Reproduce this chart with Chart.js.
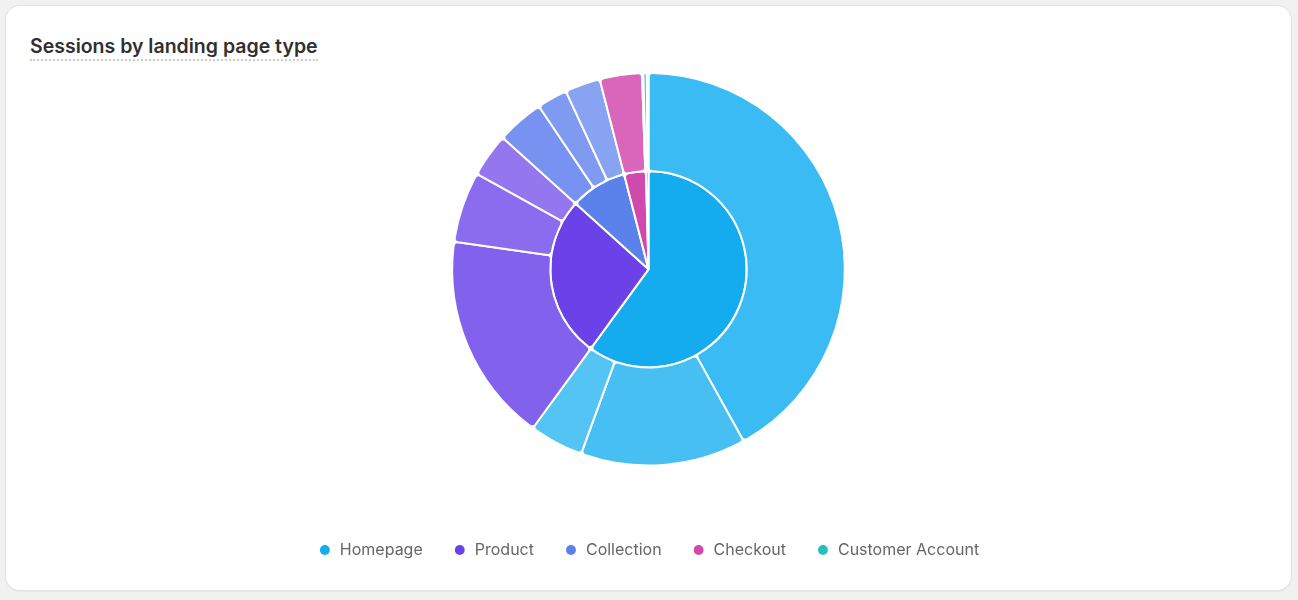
<!DOCTYPE html>
<html>
<head>
<meta charset="utf-8">
<script src="https://cdn.jsdelivr.net/npm/chart.js@4"></script>
<style>
  html, body { margin: 0; padding: 0; background: #f1f1f1; }
  body { width: 1298px; height: 600px; position: relative; font-family: Inter, sans-serif; }
  .card {
    position: absolute; left: 6px; top: 6px; width: 1285px; height: 584px;
    background: #fff; border-radius: 14px;
    box-shadow: 0 0 0 1px #e3e3e3, 0 1px 2px rgba(0,0,0,0.12);
  }
  .titulo {
    position: absolute; left: 24px; top: 28px; margin: 0;
    font-size: 19.5px; font-weight: 600; color: #303030; line-height: 24px;
    border-bottom: 2px dotted #cccccc; padding-bottom: 1px;
  }
  .lienzo { position: absolute; left: 0; top: 66px; width: 1285px; height: 496px; }
</style>
</head>
<body>
<div class="card">
  <h2 class="titulo">Sessions by landing page type</h2>
  <div class="lienzo"><canvas id="graficoSesiones"></canvas></div>
</div>
<script>
// Categorias (anillo interior) y sus valores
const categorias = ['Homepage', 'Product', 'Collection', 'Checkout', 'Customer Account'];
const sesionesCategoria = [2160, 960, 335, 129, 15];
const coloresCategoria = ['#14acef', '#6a42e7', '#5b82eb', '#d049ad', '#25bfbd'];

// Subpaginas (anillo exterior), en el mismo orden que las categorias
const subpaginas = [
  'Homepage 1', 'Homepage 2', 'Homepage 3',
  'Product 1', 'Product 2', 'Product 3',
  'Collection 1', 'Collection 2', 'Collection 3',
  'Checkout 1', 'Checkout 2',
  'Customer Account 1', 'Customer Account 2'
];
const sesionesSubpagina = [1510, 490, 160, 620, 210, 130, 140, 90, 105, 125, 4, 10, 5];
const coloresSubpagina = [
  '#3bbbf3', '#47bff3', '#53c4f4',
  '#8262ed', '#8b6cee', '#9477ef',
  '#7792f0', '#7f9af1', '#88a3f2',
  '#d966ba', '#e08ccb',
  '#3cc8c6', '#5fd2d0'
];

const ctx = document.getElementById('graficoSesiones').getContext('2d');

const graficoSesiones = new Chart(ctx, {
  type: 'doughnut',
  data: {
    labels: subpaginas,
    datasets: [
      {
        label: 'Subpaginas',
        data: sesionesSubpagina,
        backgroundColor: coloresSubpagina,
        borderColor: '#ffffff',
        borderWidth: 2,
        borderRadius: 4
      },
      {
        label: 'Tipo de pagina',
        data: sesionesCategoria,
        backgroundColor: coloresCategoria,
        borderColor: '#ffffff',
        borderWidth: 2,
        borderRadius: 4
      }
    ]
  },
  options: {
    responsive: true,
    maintainAspectRatio: false,
    animation: false,
    cutout: 0,
    layout: { padding: 0 },
    plugins: {
      tooltip: { enabled: false },
      legend: {
        position: 'bottom',
        title: { display: true, text: '', padding: { top: 31, bottom: 0 } },
        labels: {
          usePointStyle: true,
          pointStyle: 'circle',
          boxWidth: 14,
          boxHeight: 7,
          padding: 30,
          color: '#616161',
          font: { family: 'Inter', size: 16 },
          generateLabels: () => categorias.map((nombre, i) => ({
            text: nombre,
            fillStyle: coloresCategoria[i],
            strokeStyle: coloresCategoria[i],
            lineWidth: 0,
            pointStyle: 'circle',
            hidden: false,
            index: i
          }))
        }
      }
    }
  }
});
</script>
</body>
</html>
